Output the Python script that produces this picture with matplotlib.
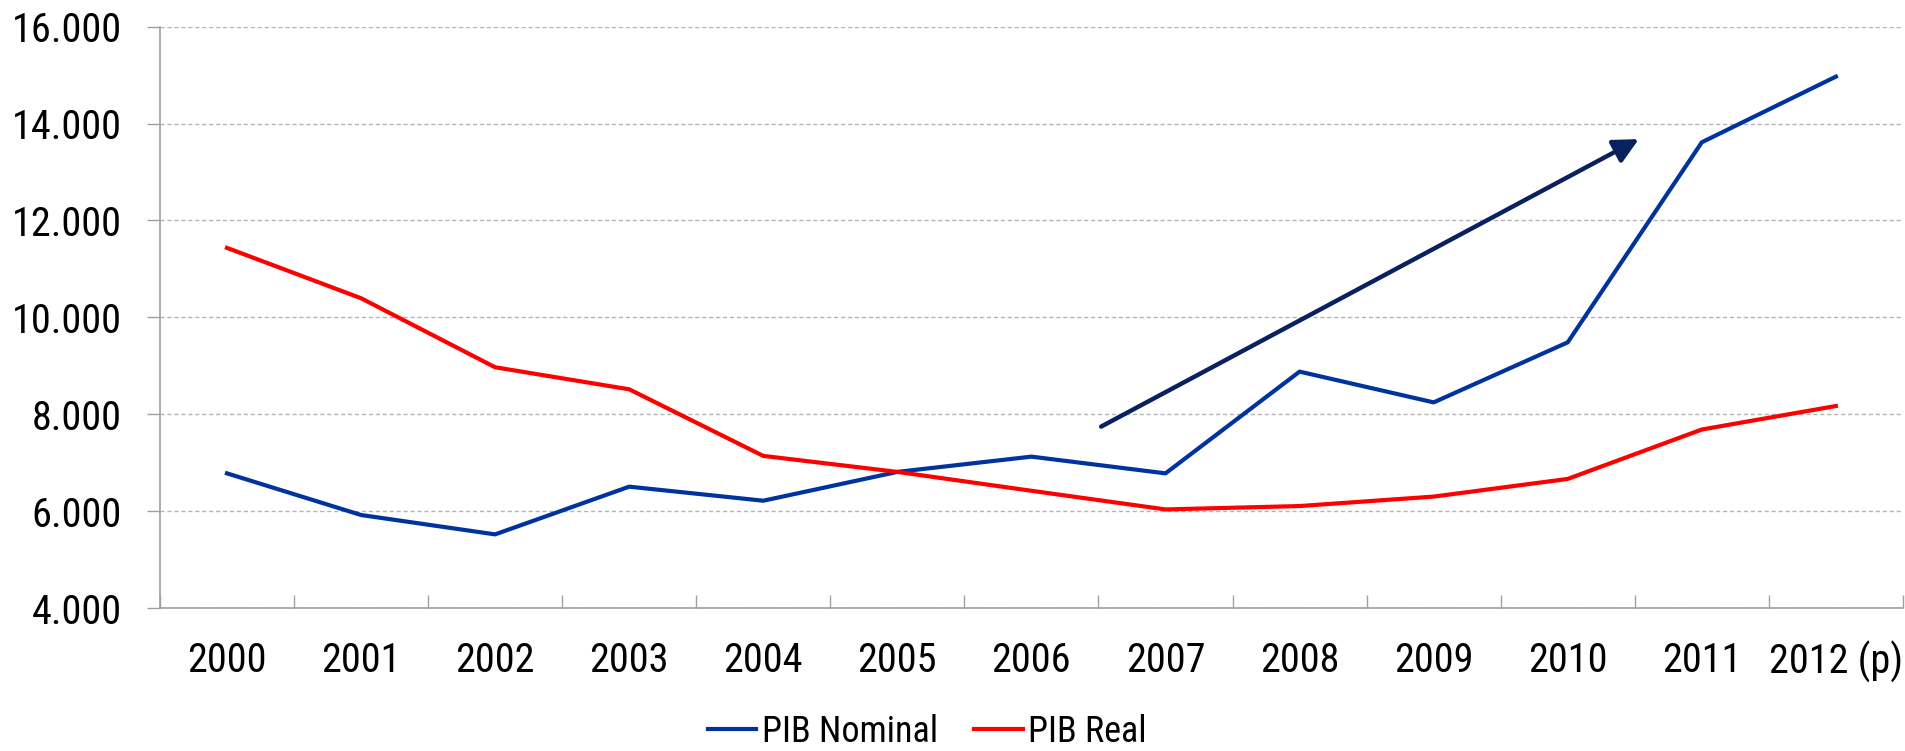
import matplotlib
matplotlib.use('Agg')
import matplotlib.pyplot as plt
from matplotlib import font_manager
from matplotlib.ticker import FuncFormatter

years = ['2000', '2001', '2002', '2003', '2004', '2005', '2006',
         '2007', '2008', '2009', '2010', '2011', '2012 (p)']
pib_nominal = [6780, 5920, 5520, 6505, 6215, 6810, 7125, 6780, 8880, 8245, 9485, 13615, 14970]
pib_real = [11435, 10395, 8970, 8515, 7140, 6810, 6420, 6035, 6105, 6300, 6665, 7685, 8170]

# trend arrow (category index, value)
arrow_start = (6.52, 7745)
arrow_end = (10.53, 13680)

installed = {f.name for f in font_manager.fontManager.ttflist}
if 'Roboto Condensed' in installed:
    font, fs = 'Roboto Condensed', 29
elif 'Liberation Sans Narrow' in installed:
    font, fs = 'Liberation Sans Narrow', 29
else:
    font, fs = 'Liberation Sans', 26
plt.rcParams['font.family'] = [font, 'DejaVu Sans']

fig = plt.figure(figsize=(19.06, 7.51), dpi=100)
ax = fig.add_axes([0.0839, 0.1904, 0.9145, 0.774])

x = list(range(len(years)))
ax.plot(x, pib_nominal, color='#0033a0', lw=3, label='PIB Nominal')
ax.plot(x, pib_real, color='#ff0000', lw=3, label='PIB Real')

ax.annotate('', xy=arrow_end, xytext=arrow_start,
            arrowprops=dict(arrowstyle='-|>,head_length=0.5,head_width=0.25',
                            color='#0a2160', lw=3.2, shrinkA=0, shrinkB=0,
                            mutation_scale=30))

ax.set_xlim(-0.5, len(years) - 0.5)
ax.set_ylim(4000, 16000)
ax.set_yticks(range(4000, 16001, 2000))
ax.yaxis.set_major_formatter(FuncFormatter(lambda v, p: f'{int(v):,}'.replace(',', '.')))
ax.tick_params(axis='y', length=9.4, width=1, color='#a0a0a0', labelsize=fs, pad=18)

ax.set_xticks([i - 0.5 for i in range(len(years) + 1)])
ax.set_xticklabels([])
ax.set_xticks(x, minor=True)
ax.set_xticklabels(years, minor=True)
ax.tick_params(axis='x', which='major', direction='in', length=9.4, width=1, color='#a0a0a0')
ax.tick_params(axis='x', which='minor', length=0, labelsize=fs, pad=24)

ax.yaxis.grid(True, color='#b4b4b4', linestyle=(0, (3, 2)), lw=1.0)
ax.set_axisbelow(True)
for s in ['top', 'right']:
    ax.spines[s].set_visible(False)
for s in ['left', 'bottom']:
    ax.spines[s].set_color('#a0a0a0')
    ax.spines[s].set_linewidth(1.2)

fig.legend(loc='center', bbox_to_anchor=(0.4865, 0.0257), ncol=2, frameon=False,
           fontsize=fs - 3, handlelength=1.35, handletextpad=0.15, columnspacing=1.0,
           borderpad=0)

fig.savefig('out.png', dpi=100)
